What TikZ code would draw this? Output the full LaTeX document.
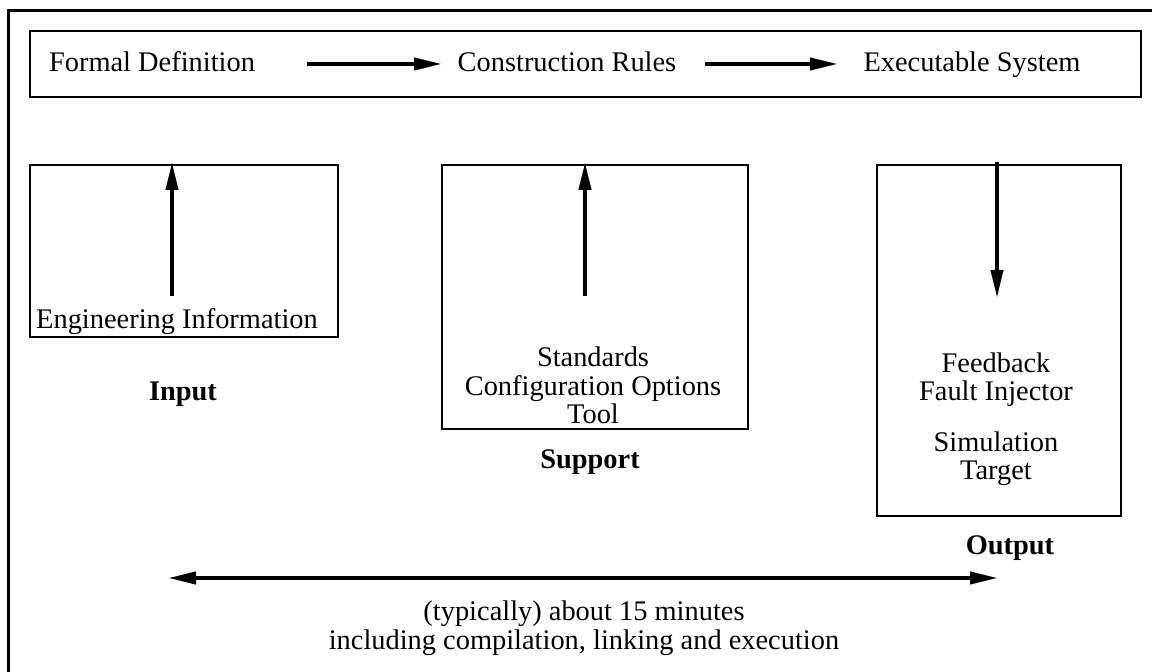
\documentclass[tikz,border=0pt]{standalone}
\usepackage{fontspec}
\setmainfont{Liberation Serif}
\usetikzlibrary{arrows.meta}
\begin{document}
\begin{tikzpicture}[x=0.5pt,y=-0.5pt,
  every node/.style={font=\fontsize{14.2}{14}\selectfont, inner sep=0pt},
  txt/.style={anchor=base},
  box/.style={draw, line width=1pt, inner sep=0pt, anchor=north west},
  lbl/.style={anchor=base, font=\fontsize{14.2}{14}\selectfont\bfseries},
  flow/.style={line width=2pt, -{Triangle[length=14pt,width=6pt]}},
  both/.style={line width=2pt, {Triangle[length=14pt,width=6pt]}-{Triangle[length=14pt,width=6pt]}}]
\useasboundingbox (0,0) rectangle (1152,672);
% outer frame (only top and left edges visible)
\draw[line width=1.5pt] (8.5,672) -- (8.5,10.5) -- (1152,10.5);
% top band
\node[box, minimum width=555.5pt, minimum height=33pt] (band) at (28.5,30) {};
\node[txt] (fd) at (152,72) {Formal Definition};
\node[txt] (cr) at (567,72) {Construction Rules};
\node[txt] (es) at (972,72) {Executable System};
\coordinate (a1s) at (307,64);
\coordinate (a1e) at (442,64);
\coordinate (a2s) at (705,64);
\coordinate (a2e) at (838,64);
\draw[flow] (a1s) -- (a1e);
\draw[flow] (a2s) -- (a2e);
% input box
\node[box, minimum width=154pt, minimum height=86pt] (inbox) at (29,164) {};
\coordinate (ia) at (172,296);
\coordinate (ib) at (172,162);
\draw[flow] (ia) -- (ib);
\node[txt] (eng) at (177,329) {Engineering Information};
\node[lbl] (input) at (183,401) {Input};
% support box
\node[box, minimum width=153pt, minimum height=132pt] (supbox) at (441,164) {};
\coordinate (sa) at (585,296);
\coordinate (sb) at (585,162);
\draw[flow] (sa) -- (sb);
\node[align=center] (std) at (593,385) {Standards\\[0.5pt]Configuration Options\\[0pt]Tool};
\node[lbl] (support) at (590,469) {Support};
% output box
\node[box, minimum width=122pt, minimum height=175.5pt] (outbox) at (876,164) {};
\coordinate (oa) at (997,162);
\coordinate (ob) at (997,298);
\draw[flow] (oa) -- (ob);
\node[align=center] (fb) at (996,380) {Feedback\\Fault Injector};
\node[align=center] (sim) at (996,459) {Simulation\\Target};
\node[lbl] (output) at (1010,555) {Output};
% bottom time span
\coordinate (ta) at (168,578);
\coordinate (tb) at (998,578);
\draw[both] (ta) -- (tb);
\node[align=center] (t1) at (584,628) {(typically) about 15 minutes\\[0.5pt]including compilation, linking and execution};
\end{tikzpicture}
\end{document}
